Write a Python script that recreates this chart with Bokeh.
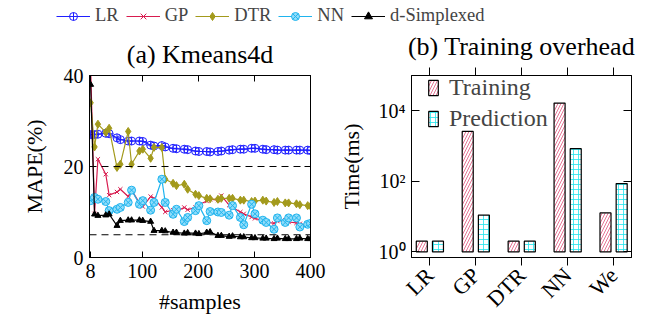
import math
from bokeh.plotting import figure
from bokeh.models import (Range1d, FixedTicker, LinearAxis, LogAxis, Span, Legend,
                          LegendItem, ColumnDataSource, CustomLabelingPolicy)
from bokeh.layouts import column, row
from bokeh.transform import dodge
from bokeh.embed import file_html
from bokeh.resources import INLINE

# ---------------- data ----------------
samples = [8, 15, 21, 35, 41, 55, 61, 75, 81, 95, 101, 115, 121, 135, 141, 155, 161,
           175, 181, 195, 201, 215, 221, 235, 241, 255, 261, 275, 281, 295, 301, 315,
           321, 335, 341, 355, 361, 375, 381, 395, 400]
lr = [27.0, 27.0, 27.1, 27.3, 27.2, 26.3, 25.9, 25.6, 25.6, 25.6, 25.5, 24.7, 24.5,
      24.6, 24.3, 24.0, 23.9, 23.8, 23.7, 23.4, 23.3, 23.3, 23.2, 23.3, 23.4, 23.6,
      23.7, 23.8, 23.8, 24.0, 24.0, 23.8, 23.7, 23.7, 23.6, 23.6, 23.6, 23.6, 23.6,
      23.6, 23.5]
gp = [42.0, 9.6, 21.6, 18.3, 13.7, 14.4, 15.0, 13.4, 14.8, 12.0, 11.2, 13.4, 13.0,
      11.0, 10.0, 10.4, 10.2, 11.0, 10.5, 11.0, 11.6, 12.4, 12.8, 12.6, 13.6, 11.5,
      11.0, 10.0, 9.6, 8.9, 8.6, 8.1, 7.8, 7.5, 8.0, 8.2, 7.8, 7.6, 7.4, 7.2, 7.0]
dtr = [34.0, 24.3, 29.3, 27.5, 28.4, 19.8, 20.5, 27.7, 20.5, 23.4, 23.8, 21.8, 24.2,
       24.2, 17.2, 16.3, 15.8, 16.1, 15.0, 13.9, 13.6, 13.0, 12.9, 12.8, 13.0, 13.0,
       13.0, 12.6, 12.6, 12.3, 12.4, 12.6, 12.4, 12.1, 12.3, 12.0, 12.0, 11.8, 11.6,
       11.4, 11.3]
nn = [12.5, 13.2, 12.8, 12.3, 10.3, 10.6, 11.0, 12.1, 14.8, 11.7, 12.5, 10.4, 12.1,
      17.2, 12.1, 9.5, 10.6, 7.9, 8.8, 10.3, 11.4, 8.1, 10.1, 10.0, 9.9, 9.3, 11.4,
      8.8, 7.2, 11.7, 9.6, 8.2, 7.7, 6.2, 8.7, 7.7, 8.7, 8.7, 6.7, 7.3, 7.5]
dsimplexed = [38.0, 9.5, 9.2, 9.3, 9.5, 7.0, 8.1, 8.2, 8.2, 8.2, 8.1, 7.9, 5.9, 5.9,
              5.8, 5.5, 5.5, 5.3, 5.4, 5.3, 5.2, 5.5, 5.6, 4.8, 4.8, 4.6, 4.7, 4.5,
              4.5, 4.3, 4.3, 4.2, 4.2, 4.1, 4.2, 4.1, 4.1, 4.1, 4.2, 4.1, 4.1]
x_ticks = [8, 100, 200, 300, 400]
y_ticks = [0, 20, 40]
thresholds = [20, 5]

models = ["LR", "GP", "DTR", "NN", "We"]
model_idx = [0, 1, 2, 3, 4]
training_ms = [2.0, 2600.0, 2.0, 16500.0, 12.7]
prediction_ms = [2.0, 11.0, 2.0, 840.0, 86.0]
log_ticks = [1, 100, 10000]
log_labels = {1: "10⁰", 100: "10²", 10000: "10⁴"}

FONT = "Liberation Serif"
TICK_FS = "20px"
LABEL_FS = "22px"
TITLE_FS = "26px"
LEG_FS = "18.5px"

C_LR = "#1f1fff"
C_GP = "#d81b4f"
C_DTR = "#a39a1c"
C_NN = "#1fb4ee"
C_DS = "#000000"

series = [
    ("LR", lr, C_LR, dict(marker="circle_cross", size=8, line_color=C_LR, fill_alpha=0)),
    ("GP", gp, C_GP, dict(marker="x", size=6, line_color=C_GP)),
    ("DTR", dtr, C_DTR, dict(marker="diamond", size=8, line_color=C_DTR, fill_color=C_DTR)),
    ("NN", nn, C_NN, dict(marker="circle_x", size=8, line_color=C_NN, fill_color="#8fdcfa")),
    ("d-Simplexed", dsimplexed, C_DS, dict(marker="triangle", size=6, line_color=C_DS, fill_color=C_DS)),
]

NO_LABELS = "return new Set()"


def style_axis(ax):
    ax.major_label_text_font = FONT
    ax.major_label_text_font_size = TICK_FS
    ax.major_label_text_color = "black"
    ax.axis_label_text_font = FONT
    ax.axis_label_text_font_size = LABEL_FS
    ax.axis_label_text_font_style = "normal"
    ax.axis_label_text_color = "black"
    ax.minor_tick_line_color = None
    ax.axis_line_color = "black"
    ax.major_tick_line_color = "black"


def mirror_axis(cls, ticks, tin, tout):
    return cls(ticker=FixedTicker(ticks=ticks),
               major_label_policy=CustomLabelingPolicy(code=NO_LABELS),
               major_label_text_font_size="1px", major_label_standoff=0,
               major_tick_in=tin, major_tick_out=tout,
               minor_tick_line_color=None, axis_line_color="black",
               major_tick_line_color="black")


def style_title(p):
    p.title.text_font = FONT
    p.title.text_font_size = TITLE_FS
    p.title.text_font_style = "normal"
    p.title.align = "center"
    p.title.text_color = "black"
    p.title.standoff = 6


# ---------------- legend strip ----------------
pl = figure(width=643, height=26, x_range=Range1d(0, 1), y_range=Range1d(0, 1),
            output_backend="svg", toolbar_location=None, min_border=0,
            x_axis_location=None, y_axis_location=None, outline_line_color=None)
pl.grid.visible = False
items = []
for name, vals, col, mk in series:
    rl = pl.line([-5, -4], [-5, -4], line_color=col, line_width=1.2)
    rs = pl.scatter([-5], [-5], **mk)
    items.append(LegendItem(label=name, renderers=[rl, rs]))
top_leg = Legend(items=items, orientation="horizontal", location=(56, 0),
                 glyph_width=34, glyph_height=20, label_standoff=5, spacing=7,
                 padding=0, margin=0, border_line_alpha=0, background_fill_alpha=0,
                 label_text_font=FONT, label_text_font_size=LEG_FS, label_height=20)
pl.add_layout(top_leg)

# ---------------- (a) Kmeans4d ----------------
p1 = figure(frame_width=221, frame_height=182, x_range=Range1d(6, 400),
            y_range=Range1d(0, 40), output_backend="svg", toolbar_location=None,
            title="(a) Kmeans4d",
            min_border_left=89, min_border_right=20, min_border_top=49, min_border_bottom=60)
style_title(p1)
p1.grid.visible = False
p1.outline_line_color = "black"
p1.xaxis.ticker = FixedTicker(ticks=x_ticks)
p1.yaxis.ticker = FixedTicker(ticks=y_ticks)
p1.xaxis.axis_label = "#samples"
p1.yaxis.axis_label = "MAPE(%)"
for ax in p1.xaxis + p1.yaxis:
    style_axis(ax)
    ax.major_tick_in = 6
    ax.major_tick_out = 0
    ax.major_label_standoff = 6
p1.yaxis.axis_label_standoff = 14
p1.xaxis.axis_label_standoff = 8
p1.add_layout(mirror_axis(LinearAxis, x_ticks, 6, 0), "above")
p1.add_layout(mirror_axis(LinearAxis, y_ticks, 6, 0), "right")

for t in thresholds:
    p1.add_layout(Span(location=t, dimension="width", line_color="black",
                       line_width=1, line_dash="7 5"))

for name, vals, col, mk in series:
    p1.line(samples, vals, line_color=col, line_width=1.2)
    p1.scatter(samples, vals, **mk)

# ---------------- (b) Training overhead ----------------
p2 = figure(frame_width=220, frame_height=182, x_range=Range1d(-0.4, 4.39),
            y_range=Range1d(0.69, 1e5), y_axis_type="log",
            output_backend="svg", toolbar_location=None, title="(b) Training overhead",
            min_border_left=81, min_border_right=12, min_border_top=49, min_border_bottom=60)
style_title(p2)
p2.grid.visible = False
p2.outline_line_color = "black"
p2.xaxis.ticker = FixedTicker(ticks=model_idx)
p2.xaxis.major_label_overrides = {i: m for i, m in zip(model_idx, models)}
p2.xaxis.major_label_orientation = math.pi / 4
p2.yaxis.ticker = FixedTicker(ticks=log_ticks)
p2.yaxis.major_label_overrides = log_labels
p2.yaxis.axis_label = "Time(ms)"
for ax in p2.xaxis + p2.yaxis:
    style_axis(ax)
p2.xaxis.major_label_text_font_size = "22px"
p2.xaxis.major_tick_in = 0
p2.xaxis.major_tick_out = 8
p2.xaxis.major_label_standoff = 6
p2.yaxis.major_tick_in = 8
p2.yaxis.major_tick_out = 0
p2.yaxis.major_label_standoff = 6
p2.yaxis.axis_label_standoff = 12
p2.add_layout(mirror_axis(LinearAxis, model_idx, 0, 8), "above")
p2.add_layout(mirror_axis(LogAxis, log_ticks, 8, 0), "right")

src = ColumnDataSource(dict(idx=model_idx, training=training_ms, prediction=prediction_ms))
r_tr = p2.vbar(x=dodge("idx", -0.176, range=p2.x_range), top="training", bottom=1,
               width=0.24, source=src, fill_color="white", line_color="black",
               line_width=1.2, hatch_pattern="/", hatch_color="#e0507a",
               hatch_scale=6, hatch_weight=0.8)
r_pr = p2.vbar(x=dodge("idx", 0.176, range=p2.x_range), top="prediction", bottom=1,
               width=0.24, source=src, fill_color="white", line_color="black",
               line_width=1.2, hatch_pattern="+", hatch_color="#22e4ee",
               hatch_scale=5, hatch_weight=0.8)
leg2 = Legend(items=[LegendItem(label="Training", renderers=[r_tr]),
                     LegendItem(label="Prediction", renderers=[r_pr])],
              location=(16, 125), glyph_width=12, glyph_height=19, label_standoff=10,
              label_height=24, spacing=4, padding=0, margin=0, border_line_alpha=0,
              background_fill_alpha=0, label_text_font=FONT, label_text_font_size="24px")
p2.add_layout(leg2)

layout = column(pl, row(p1, p2))
open("out.html", "w").write(file_html(layout, INLINE))
